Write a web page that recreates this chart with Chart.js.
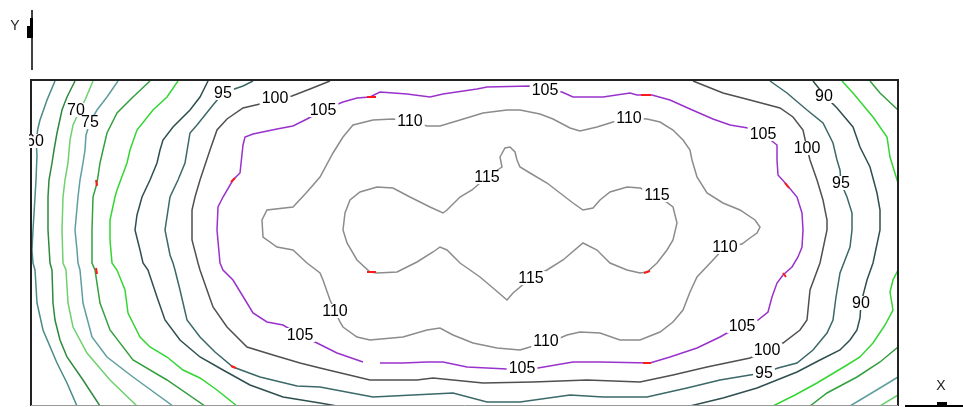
<!DOCTYPE html>
<html>
<head>
<meta charset="utf-8">
<script src="https://cdn.jsdelivr.net/npm/chart.js@4/dist/chart.umd.min.js"></script>
<style>
  html, body { margin: 0; padding: 0; background: #fff; }
  #wrap { width: 963px; height: 407px; }
</style>
</head>
<body>
<div id="wrap"><canvas id="contour" width="963" height="407"></canvas></div>
<script>
// contour levels, one polyline (or a few pieces) per level, in plot units
const levels = [60, 65, 70, 75, 80, 85, 90, 95, 100, 105, 110, 115];

const c60 = [[55,81],[47,100],[40,120],[38,128],[36,141],[37,155],[36,180],[35,197],[33,230],[32,250],[33,263],[35,270],[37,303],[43,330],[57,363],[67,383],[77,406]];
const c65 = [[75,81],[67,97],[62,110],[57,133],[54,150],[52,163],[49,180],[48,197],[48,230],[50,263],[52,270],[53,303],[55,320],[60,340],[67,357],[83,380],[100,406]];
const c70 = [[93,81],[88,93],[85,100],[79,112],[73,125],[70,140],[68,163],[65,180],[63,197],[62,230],[63,263],[66,270],[68,303],[73,327],[87,353],[110,380],[137,406]];
const c70b = [[898,395],[880,406]];
const c75 = [[118,81],[107,97],[97,110],[90,122],[86,135],[85,150],[83,163],[80,180],[78,197],[75,230],[77,250],[78,263],[80,270],[83,303],[92,337],[107,357],[133,377],[173,406]];
const c75b = [[898,377],[880,388],[860,400],[850,406]];
const c80 = [[150,81],[133,97],[117,113],[107,133],[103,150],[100,163],[97,183],[93,197],[92,230],[92,263],[95,270],[100,303],[110,330],[133,360],[167,380],[205,406]];
const c80b = [[870,81],[880,93],[898,110]];
const c80c = [[898,347],[880,362],[857,377],[827,393],[810,406]];
const c85 = [[178,81],[167,97],[153,110],[137,130],[130,150],[127,163],[117,190],[115,197],[110,220],[110,240],[112,263],[117,270],[125,290],[128,313],[140,337],[150,347],[167,357],[183,370],[200,378],[217,390],[237,406]];
const c85b = [[842,81],[853,93],[873,117],[887,137],[890,157],[898,183]];
const c85c = [[898,270],[893,280],[890,292],[893,310],[885,325],[873,343],[860,357],[847,365],[817,383],[795,395],[773,406]];
const c90 = [[208,81],[200,97],[190,110],[173,127],[163,140],[160,150],[157,163],[150,180],[142,197],[137,215],[135,230],[140,250],[143,263],[148,270],[157,297],[165,320],[180,340],[200,357],[223,370],[250,385],[283,397],[320,403],[337,406]];
const c90b = [[690,406],[723,398],[757,388],[797,372],[820,360],[840,350],[850,340],[857,330],[860,318],[861,303],[867,280],[873,263],[880,230],[880,210],[877,193],[870,167],[860,147],[853,127],[837,108],[825,96],[813,81]];
const c95 = [[253,81],[243,86],[223,93],[213,105],[205,115],[197,125],[190,133],[185,163],[178,180],[170,197],[165,230],[170,255],[173,263],[175,270],[180,290],[187,320],[200,337],[215,352],[233,367],[260,377],[297,386],[320,387],[373,397],[453,393],[487,402],[520,402],[570,395],[603,397],[647,397],[687,388],[720,380],[750,375],[764,373],[778,368],[797,363],[813,350],[827,333],[833,320],[836,297],[840,273],[850,247],[852,230],[852,213],[847,197],[841,183],[840,170],[837,160],[833,143],[823,123],[807,110],[787,93],[770,81]];
const c100 = [[330,81],[310,89],[292,96],[275,98],[260,104],[243,108],[227,119],[217,130],[210,150],[200,180],[195,197],[192,210],[192,240],[198,263],[200,270],[207,290],[213,307],[227,327],[247,347],[273,355],[300,363],[320,368],[370,380],[417,380],[433,378],[483,383],[533,382],[587,380],[640,382],[673,375],[707,367],[750,358],[767,350],[783,343],[800,330],[807,320],[810,290],[820,263],[827,230],[827,220],[823,200],[817,180],[810,160],[807,148],[803,130],[793,117],[780,108],[750,100],[723,93],[693,81]];
const c105 = [[545,90],[562,92],[573,97],[603,97],[630,93],[637,95],[652,95],[670,100],[690,109],[713,119],[730,125],[748,128],[763,134],[777,145],[777,160],[778,175],[787,185],[797,197],[802,213],[803,230],[802,247],[798,257],[792,267],[783,275],[777,283],[772,297],[768,312],[758,320],[742,326],[727,333],[720,337],[697,348],[670,357],[650,363],[600,362],[573,362],[538,368],[522,368],[507,369],[467,367],[443,362],[427,362],[403,363],[380,363],null,[363,362],[337,353],[317,343],[300,335],[283,325],[267,322],[253,313],[247,303],[233,280],[223,270],[220,263],[217,230],[218,207],[223,197],[233,180],[240,173],[243,145],[245,137],[253,134],[277,129],[293,126],[307,119],[323,110],[343,102],[357,98],[370,97],[380,92],[407,94],[430,97],[443,94],[477,89],[487,87],[530,86],[545,90]];
const c110 = [[410,121],[427,126],[440,126],[460,120],[483,113],[507,110],[520,110],[540,114],[553,119],[570,128],[580,131],[597,127],[613,122],[629,118],[647,119],[660,122],[673,130],[683,140],[690,150],[692,160],[697,177],[707,193],[723,203],[740,210],[755,220],[760,227],[757,233],[750,238],[742,244],[725,247],[713,260],[697,277],[690,292],[683,310],[673,322],[660,332],[640,340],[620,340],[600,333],[580,332],[567,335],[560,338],[546,341],[530,347],[520,350],[497,348],[473,343],[453,335],[440,328],[427,330],[403,337],[370,340],[357,337],[343,327],[340,322],[335,311],[330,300],[323,280],[320,273],[307,263],[293,250],[277,247],[263,237],[262,220],[267,210],[293,207],[307,192],[320,177],[333,153],[343,137],[353,125],[373,120],[393,119],[410,121]];
const c115 = [[487,177],[502,167],[500,157],[505,148],[510,147],[515,152],[517,160],[520,167],[530,173],[547,183],[560,193],[573,203],[583,210],[593,208],[600,200],[610,192],[627,187],[640,188],[657,195],[673,207],[677,223],[673,240],[667,250],[657,263],[647,272],[640,273],[627,270],[610,263],[597,250],[583,243],[563,260],[547,270],[531,278],[513,293],[507,300],[493,288],[480,277],[460,263],[447,250],[440,247],[433,252],[417,262],[397,272],[377,273],[370,272],[357,260],[347,243],[343,230],[345,213],[350,200],[360,192],[377,187],[393,188],[410,197],[430,207],[443,213],[447,210],[460,197],[472,190],[487,177]];

// short red flagged pieces
const flagged = [[367,97],[376,97],null,[641,95],[651,95],null,[783,273],[786,277],null,[785,183],[789,188],null,[231,182],[235,178],null,[96,180],[97,186],null,[231,366],[236,368],null,[643,363],[651,363],null,[367,272],[376,272],null,[644,273],[650,271],null,[96,268],[97,274]];

// level label, x, y
const contourLabels = [
  ['60',35,141],['70',76,110],['75',90,122],['95',223,93],['100',275,98],['105',323,110],
  ['105',545,90],['110',410,121],['110',629,118],['90',824,96],['105',763,134],['100',807,148],
  ['95',841,183],['115',487,177],['115',657,195],['110',725,247],['115',531,278],['110',335,311],
  ['90',861,303],['105',300,335],['110',546,341],['105',742,326],['100',767,350],['95',764,373],
  ['105',522,368]
];

const colors = {
  60: '#4a8a8a', 65: '#2c8a3c', 70: '#6fd06f', 75: '#5f9ea0', 80: '#35a040', 85: '#33d633',
  90: '#2f4f4f', 95: '#3b6868', 100: '#505050', 105: '#9932cc', 110: '#8c8c8c', 115: '#8c8c8c'
};

const pieces = [
  [60, c60], [65, c65], [70, c70], [70, c70b], [75, c75], [75, c75b],
  [80, c80], [80, c80b], [80, c80c], [85, c85], [85, c85b], [85, c85c],
  [90, c90], [90, c90b], [95, c95], [100, c100], [105, c105], [110, c110], [115, c115]
];

const toXY = arr => arr.map(p => p ? { x: p[0], y: p[1] } : { x: null, y: null });

const datasets = pieces.map(([lv, arr]) => ({
  label: String(lv),
  data: toXY(arr),
  borderColor: colors[lv],
  borderWidth: 1.5,
  showLine: true,
  pointRadius: 0,
  tension: 0,
  spanGaps: false,
  order: 1
}));
datasets.push({
  label: 'flag',
  data: toXY(flagged),
  borderColor: '#ff1a1a',
  borderWidth: 2,
  showLine: true,
  pointRadius: 0,
  spanGaps: false,
  order: 0
});

const frameAndText = {
  id: 'frameAndText',
  afterDatasetsDraw(chart) {
    const ctx = chart.ctx;
    const a = chart.chartArea;
    const xs = chart.scales.x, ys = chart.scales.y;
    ctx.save();
    // frame
    ctx.strokeStyle = '#222';
    ctx.lineWidth = 2;
    ctx.beginPath();
    ctx.moveTo(a.left, a.bottom);
    ctx.lineTo(a.left, a.top);
    ctx.lineTo(a.right, a.top);
    ctx.lineTo(a.right, a.bottom);
    ctx.stroke();
    ctx.strokeStyle = '#999';
    ctx.lineWidth = 1;
    ctx.beginPath();
    ctx.moveTo(a.left, a.bottom - 0.5);
    ctx.lineTo(a.right, a.bottom - 0.5);
    ctx.stroke();

    // contour labels
    ctx.font = '16px "Liberation Sans", Arial, sans-serif';
    ctx.textAlign = 'center';
    ctx.textBaseline = 'middle';
    contourLabels.forEach(([t, x, y]) => {
      const px = xs.getPixelForValue(x), py = ys.getPixelForValue(y);
      const w = ctx.measureText(t).width;
      ctx.save();
      ctx.beginPath();
      ctx.rect(29, 0, 963, 407);
      ctx.clip();
      ctx.fillStyle = '#fff';
      ctx.fillRect(px - w / 2 - 2, py - 7, w + 4, 14);
      ctx.fillStyle = '#000';
      ctx.fillText(t, px, py + 1);
      ctx.restore();
    });

    // axis arrows and names
    ctx.fillStyle = '#000';
    ctx.strokeStyle = '#000';
    ctx.lineWidth = 1.5;
    ctx.beginPath();
    ctx.moveTo(32, 10);
    ctx.lineTo(32, 70);
    ctx.stroke();
    ctx.beginPath();
    ctx.moveTo(30, 18); ctx.lineTo(33, 18); ctx.lineTo(33, 38);
    ctx.lineTo(27, 38); ctx.lineTo(27, 26); ctx.lineTo(30, 26);
    ctx.closePath();
    ctx.fill();
    ctx.lineWidth = 2;
    ctx.beginPath();
    ctx.moveTo(905, 406);
    ctx.lineTo(963, 406);
    ctx.stroke();
    ctx.fillRect(937, 402, 10, 5);

    ctx.font = '14px "Liberation Sans", Arial, sans-serif';
    ctx.fillStyle = '#222';
    ctx.fillText('Y', 15, 26);
    ctx.fillText('X', 941, 386);
    ctx.restore();
  }
};

new Chart(document.getElementById('contour'), {
  type: 'scatter',
  data: { datasets },
  options: {
    responsive: false,
    animation: false,
    devicePixelRatio: 1,
    layout: { padding: { left: 31, right: 65, top: 80, bottom: 1 } },
    plugins: { legend: { display: false }, tooltip: { enabled: false } },
    scales: {
      x: { type: 'linear', min: 31, max: 898, display: false },
      y: { type: 'linear', min: 80, max: 406, reverse: true, display: false }
    }
  },
  plugins: [frameAndText]
});
</script>
</body>
</html>
